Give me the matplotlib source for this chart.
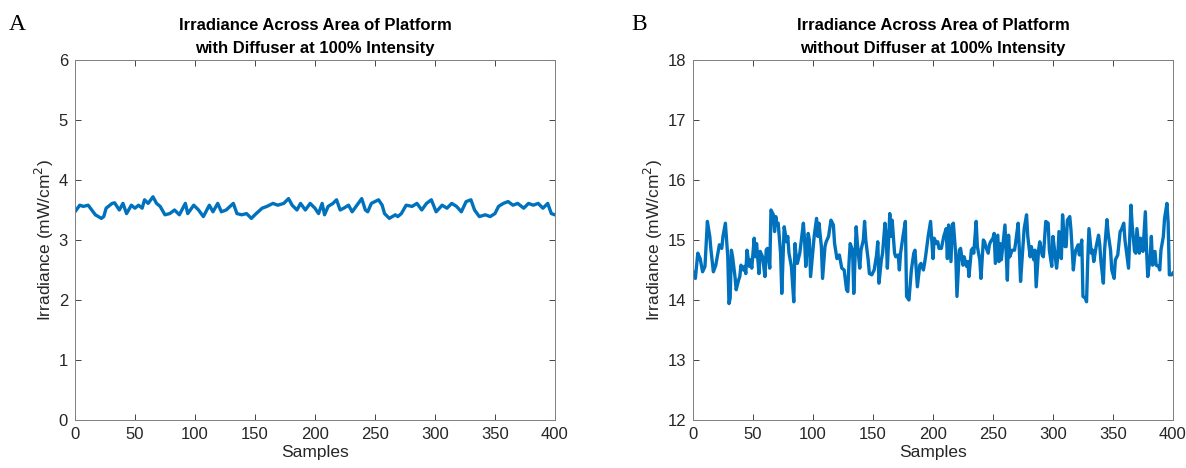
import numpy as np
import matplotlib.pyplot as plt

plt.rcParams['font.family'] = ['Liberation Sans', 'DejaVu Sans']

# panel A: with diffuser
samples_a = [0, 4, 7, 11, 17, 22, 24, 26, 31, 33, 37, 40, 43, 47, 50, 53, 56, 58, 61, 65,
             68, 71, 75, 79, 83, 87, 92, 94, 99, 103, 107, 112, 115, 119, 122, 126, 132, 135,
             139, 143, 147, 151, 156, 160, 165, 169, 174, 178, 181, 185, 188, 192, 196,
             200, 203, 206, 208, 211, 215, 218, 221, 224, 228, 231, 235, 239, 242, 244, 247,
             250, 253, 256, 258, 262, 267, 269, 272, 276, 281, 285, 289, 293, 297, 301, 306,
             310, 314, 318, 322, 326, 330, 333, 337, 342, 346, 350, 353, 357, 361, 365, 369,
             374, 378, 382, 386, 390, 394, 397, 400]
irr_a = [3.47, 3.58, 3.56, 3.58, 3.42, 3.36, 3.39, 3.53, 3.61, 3.62, 3.50, 3.61, 3.44, 3.58,
         3.53, 3.58, 3.53, 3.67, 3.61, 3.72, 3.61, 3.56, 3.42, 3.44, 3.50, 3.42, 3.61, 3.44,
         3.58, 3.50, 3.39, 3.58, 3.47, 3.61, 3.47, 3.50, 3.61, 3.44, 3.42, 3.44, 3.36, 3.44,
         3.53, 3.56, 3.61, 3.58, 3.61, 3.69, 3.58, 3.50, 3.61, 3.50, 3.61,
         3.53, 3.44, 3.61, 3.42, 3.56, 3.61, 3.67, 3.50, 3.53, 3.58, 3.47, 3.58, 3.69, 3.50,
         3.47, 3.61, 3.64, 3.67, 3.58, 3.44, 3.36, 3.42, 3.39, 3.44, 3.58, 3.56, 3.61, 3.50,
         3.61, 3.67, 3.47, 3.58, 3.53, 3.61, 3.56, 3.47, 3.64, 3.67, 3.50, 3.39, 3.42, 3.39,
         3.44, 3.56, 3.61, 3.64, 3.58, 3.61, 3.53, 3.61, 3.58, 3.61, 3.53, 3.61, 3.44, 3.42]

# panel B: without diffuser
samples_b = [0, 2, 4, 6, 8, 10, 12, 14, 15, 17, 19, 22, 24, 25, 27, 29, 30, 31, 32, 33, 35,
             36, 38, 39, 40, 42, 43, 44, 45, 47, 48, 49, 51, 52, 53, 55, 56, 58, 60, 61, 62,
             64, 65, 67, 68, 69, 70, 71, 73, 74, 76, 78, 79, 80, 82, 84, 85, 86, 87, 89, 92,
             93, 94, 96, 97, 98, 99, 101, 103, 104, 105, 107, 108, 110, 111, 113, 115, 117,
             118, 120, 122, 124, 126, 128, 129, 130, 131, 133, 134, 136, 137, 139, 140, 142,
             143, 144, 146, 147, 149, 151, 153, 154, 155, 157, 158, 160, 161, 162, 164, 165,
             166, 168, 169, 171, 172, 173, 175, 177, 178, 180, 182, 184, 185, 187, 189, 190,
             192, 193, 194, 196, 198, 200, 201, 203, 204, 205, 207, 209, 211, 212, 213, 215,
             216, 217, 219, 220, 222, 223, 225, 226, 228, 229, 230, 232, 233, 234, 236, 237,
             239, 240, 242, 243, 244, 246, 247, 248, 250, 251, 252, 254, 255, 256, 257, 259,
             260, 262, 263, 264, 266, 268, 269, 271, 272, 273, 275, 276, 278, 279, 281, 282,
             284, 285, 286, 288, 289, 291, 292, 294, 296, 297, 299, 300, 301, 303, 304, 305,
             307, 308, 310, 311, 312, 314, 315, 317, 318, 319, 321, 322, 324, 325, 327, 328,
             329, 330, 332, 333, 334, 336, 338, 339, 340, 342, 343, 345, 346, 348, 349, 351,
             352, 354, 356, 357, 359, 360, 362, 363, 365, 366, 368, 369, 370, 372, 373, 375,
             377, 378, 379, 381, 382, 383, 385, 386, 388, 389, 390, 392, 393, 395, 396, 397,
             399, 400]
irr_b = [14.47, 14.36, 14.78, 14.69, 14.47, 14.56, 15.31, 15.06, 14.83, 14.47, 14.58, 14.92,
         14.86, 15.06, 15.28, 14.72, 13.94, 14.03, 14.83, 14.72, 14.39, 14.17, 14.33, 14.39,
         14.58, 14.50, 14.56, 14.44, 14.83, 14.56, 14.67, 14.53, 15.03, 14.72, 14.94, 14.44,
         14.81, 14.72, 14.39, 14.83, 14.86, 14.53, 15.50, 15.42, 15.14, 15.39, 15.25, 15.28,
         14.78, 14.11, 15.22, 14.97, 15.06, 14.78, 14.56, 13.97, 14.94, 14.72, 14.61, 14.78,
         15.28, 15.00, 14.56, 15.11, 15.00, 14.39, 14.61, 15.06, 15.36, 15.06, 15.28, 14.89,
         14.36, 14.89, 14.97, 15.06, 15.33, 15.25, 14.94, 14.69, 14.75, 14.53, 14.50, 14.17,
         14.14, 14.61, 14.94, 14.83, 14.11, 15.22, 14.94, 14.53, 14.83, 15.00, 15.31, 15.00,
         14.67, 14.44, 14.42, 14.50, 14.75, 14.97, 14.28, 14.67, 14.78, 15.28, 15.06, 14.53,
         15.44, 15.06, 15.33, 14.78, 14.72, 14.75, 14.50, 14.78, 15.06, 15.31, 14.06, 14.00,
         14.50, 14.78, 14.83, 14.22, 14.58, 14.61, 14.50, 14.61, 14.75, 15.06, 15.31, 14.69,
         15.03, 14.94, 14.97, 14.86, 14.86, 15.06, 15.19, 14.69, 15.25, 14.64, 15.25, 15.28,
         14.75, 14.06, 14.83, 14.86, 14.58, 14.72, 14.56, 14.64, 14.39, 14.83, 14.86, 14.78,
         15.31, 14.89, 14.67, 14.36, 15.00, 14.97, 14.89, 14.78, 14.92, 14.97, 15.03, 15.11,
         14.61, 15.08, 14.64, 14.94, 14.67, 15.06, 15.25, 14.33, 15.08, 14.72, 14.83, 14.83,
         14.97, 15.28, 14.83, 14.31, 14.89, 15.19, 15.42, 15.06, 14.72, 14.89, 14.67, 14.83,
         14.22, 14.83, 14.97, 14.75, 14.72, 15.31, 15.28, 14.83, 14.56, 15.06, 14.89, 14.53,
         14.72, 15.14, 14.69, 15.42, 14.89, 14.89, 15.33, 15.39, 15.17, 14.50, 14.72, 14.83,
         14.92, 14.75, 15.00, 14.06, 14.03, 13.97, 14.67, 15.19, 14.78, 14.83, 14.64, 14.89,
         15.08, 14.92, 14.64, 14.28, 14.83, 15.34, 15.11, 14.83, 14.50, 14.36, 14.67, 14.75,
         15.14, 15.17, 15.28, 15.00, 14.69, 14.53, 15.58, 15.25, 14.81, 14.78, 15.19, 14.78,
         15.03, 14.81, 15.47, 14.83, 14.39, 14.72, 15.06, 14.58, 14.81, 14.58, 14.56, 14.50,
         14.83, 15.06, 15.36, 15.61, 15.28, 14.42, 14.42, 14.45]

titles = ['Irradiance Across Area of Platform\nwith Diffuser at 100% Intensity',
          'Irradiance Across Area of Platform\nwithout Diffuser at 100% Intensity']
panel_labels = ['A', 'B']
ylims = [(0, 6), (12, 18)]

fig = plt.figure(figsize=(11.86, 4.68), dpi=100)
ax1 = fig.add_axes([0.0632, 0.1026, 0.4047, 0.7692])
ax2 = fig.add_axes([0.5843, 0.1026, 0.4047, 0.7692])

blue = '#0072BD'
grey = '#262626'
for ax, xs, ys, title, yl in zip([ax1, ax2], [samples_a, samples_b], [irr_a, irr_b],
                                 titles, ylims):
    ax.plot(xs, ys, color=blue, linewidth=2.4)
    ax.set_xlim(0, 400)
    ax.set_ylim(*yl)
    ax.set_xticks(np.arange(0, 401, 50))
    ax.set_yticks(np.arange(yl[0], yl[1] + 1, 1))
    ax.tick_params(direction='in', length=4, width=0.6, top=True, right=True,
                   labelsize=12, colors=grey, pad=5)
    for sp in ax.spines.values():
        sp.set_color('#808080')
        sp.set_linewidth(0.7)
    ax.set_title(title, fontsize=12, fontweight='bold', color='black', pad=5,
                 linespacing=1.65)
    ax.set_xlabel('Samples', fontsize=12.5, color=grey, labelpad=2)
    ax.set_ylabel('Irradiance (mW/cm$^2$)', fontsize=12.5, color=grey, labelpad=2)

fig.text(0.007, 0.935, panel_labels[0], fontsize=17, family='Liberation Serif')
fig.text(0.532, 0.935, panel_labels[1], fontsize=17, family='Liberation Serif')

fig.savefig('out.png', dpi=100)
